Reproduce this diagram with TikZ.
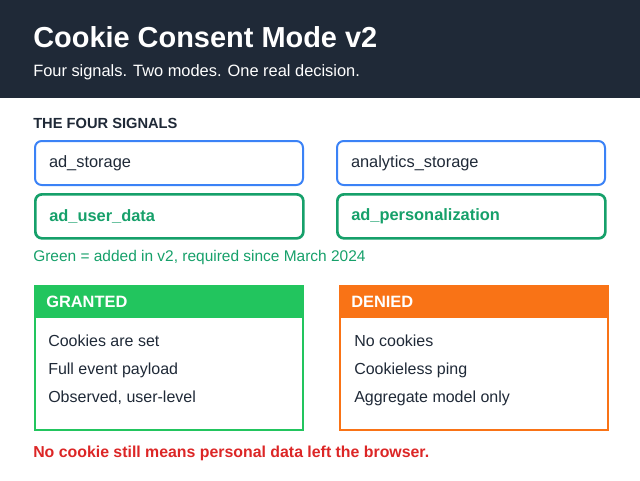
\documentclass[tikz,border=0pt]{standalone}
\usepackage{fontspec}
\setmainfont{Liberation Sans}
\definecolor{navy}{HTML}{1F2937}
\definecolor{blueb}{HTML}{3B82F6}
\definecolor{greenb}{HTML}{16A06A}
\definecolor{granted}{HTML}{22C55E}
\definecolor{denied}{HTML}{F97316}
\definecolor{redt}{HTML}{DC2626}
\definecolor{txt}{HTML}{1F2937}
\begin{document}
\begin{tikzpicture}[x=0.75pt,y=-0.75pt,
  sig/.style={draw=blueb,line width=1.5pt,rounded corners=5pt,minimum width=267*0.75pt,minimum height=44*0.75pt,anchor=north west,text width=240*0.75pt,inner xsep=14*0.75pt,align=left,font=\fontsize{12.3}{14}\selectfont,text=txt},
  sig2/.style={sig,draw=greenb,line width=2pt,text=greenb,font=\fontsize{12.3}{14}\selectfont\bfseries},
  panel/.style={draw=#1,line width=1.2pt,minimum width=268*0.75pt,minimum height=144*0.75pt,anchor=north west},
  phead/.style={fill=#1,minimum width=268*0.75pt,minimum height=33*0.75pt,anchor=north west,text=white,font=\fontsize{12.3}{14}\selectfont\bfseries,text width=245*0.75pt,align=left,inner xsep=12*0.75pt},
  item/.style={anchor=base west,font=\fontsize{12}{14}\selectfont,text=txt,inner sep=0pt}]
\path[use as bounding box] (0,0) rectangle (640,480);
\fill[navy] (0,0) rectangle (640,98);
\node[anchor=west,text=white,font=\fontsize{21.7}{26}\selectfont\bfseries,inner sep=0pt] (title) at (33,37) {Cookie Consent Mode v2};
\node[anchor=west,text=white,font=\fontsize{12.3}{14}\selectfont,inner sep=0pt] (sub) at (33,72) {Four signals. Two modes. One real decision.};
\node[anchor=west,text=txt,font=\fontsize{11}{13}\selectfont\bfseries,inner sep=0pt] (four) at (33,123) {THE FOUR SIGNALS};
\node[sig] (s1) at (34,140) {ad\_storage};
\node[sig] (s2) at (336,140) {analytics\_storage};
\node[sig2] (s3) at (34,193) {ad\_user\_data};
\node[sig2] (s4) at (336,193) {ad\_personalization};
\node[anchor=west,text=greenb,font=\fontsize{11.6}{13}\selectfont,inner sep=0pt] (note) at (33,257) {Green = added in v2, required since March 2024};
\node[panel=granted] (g) at (34,285) {};
\node[phead=granted] (gh) at (34,285) {GRANTED};
\node[item] (g1) at (48,346) {Cookies are set};
\node[item] (g2) at (48,374) {Full event payload};
\node[item] (g3) at (48,402) {Observed, user-level};
\node[panel=denied] (d) at (339,285) {};
\node[phead=denied] (dh) at (339,285) {DENIED};
\node[item] (d1) at (354,346) {No cookies};
\node[item] (d2) at (354,374) {Cookieless ping};
\node[item] (d3) at (354,402) {Aggregate model only};
\node[anchor=west,text=redt,font=\fontsize{11.9}{14}\selectfont\bfseries,inner sep=0pt] (warn) at (33,453) {No cookie still means personal data left the browser.};
\end{tikzpicture}
\end{document}
